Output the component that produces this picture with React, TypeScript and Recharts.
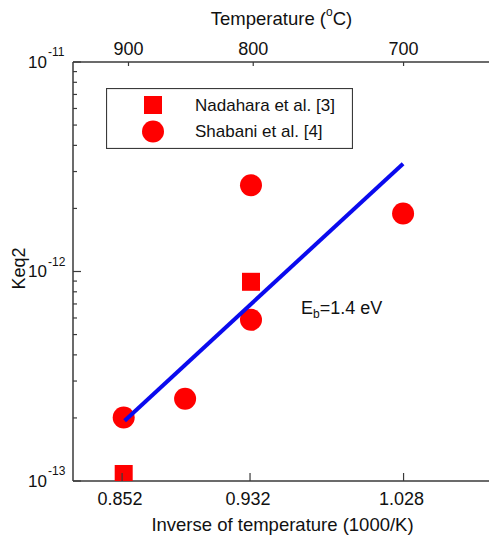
import { ComposedChart, Scatter, XAxis, YAxis, Legend, ReferenceDot } from "recharts"

// data (x in 1000/K, y = Keq2)
const nadaharaX = [0.853, 0.9326]
const nadaharaY = [1.08e-13, 8.93e-13]
const shabaniX = [0.853, 0.8914, 0.9326, 0.9326, 1.0277]
const shabaniY = [2.01e-13, 2.47e-13, 2.58e-12, 5.88e-13, 1.89e-12]
const fitX = [0.8536, 1.0277]
const fitY = [1.94e-13, 3.27e-12]

const bottomTicks = [0.852, 0.932, 1.028]
const topTickPos = [0.856, 0.934, 1.028]
const topTickLabels = ["900", "800", "700"]
const yDecades = [1e-13, 1e-12, 1e-11]
const yMinorSteps = [2, 3, 4, 5, 6, 7, 8, 9]

const xDomain = [0.8213, 1.0833]
const yDomain = [1e-13, 1e-11]
const ebAnchor = { x: 0.9639, y: 6.71e-13 }

const FONT = "Arial, 'Liberation Sans', Helvetica, sans-serif"
const AXIS = "#3a3a3a"
const RED = "#ff0000"
const BLUE = "#0a0aee"
const PLOT_LEFT = 73
const PLOT_TOP = 62
const PLOT_BOTTOM = 481

const toPoints = (xs: number[], ys: number[]) => xs.map((x, i) => ({ x, y: ys[i] }))
const nadahara = toPoints(nadaharaX, nadaharaY)
const shabani = toPoints(shabaniX, shabaniY)
const fit = toPoints(fitX, fitY)

const yTicks: number[] = []
yDecades.forEach((d, i) => {
  yTicks.push(d)
  if (i < yDecades.length - 1) yMinorSteps.forEach(m => yTicks.push(d * m))
})

function YTick(props: any) {
  const { y, payload } = props
  const e = Math.log10(payload.value)
  const major = Math.abs(e - Math.round(e)) < 1e-6
  return (
    <g>
      <line x1={PLOT_LEFT} x2={PLOT_LEFT + (major ? 8 : 4)} y1={y} y2={y} stroke={AXIS} strokeWidth={1.2} />
      {major && (
        <g fontFamily={FONT} fill="#111">
          <text x={47} y={y} textAnchor="end" dominantBaseline="central" fontSize={17}>10</text>
          <text x={48} y={y - 10} textAnchor="start" dominantBaseline="central" fontSize={12}>
            {String(Math.round(e))}
          </text>
        </g>
      )}
    </g>
  )
}

function BottomTick(props: any) {
  const { x, payload } = props
  return (
    <g>
      <line x1={x} x2={x} y1={PLOT_BOTTOM} y2={PLOT_BOTTOM - 8} stroke={AXIS} strokeWidth={1.2} />
      <text x={x - 2} y={499} textAnchor="middle" dominantBaseline="central" fontSize={18} fontFamily={FONT} fill="#111">
        {payload.value.toFixed(3)}
      </text>
    </g>
  )
}

function TopTick(props: any) {
  const { x, index } = props
  return (
    <g>
      <line x1={x} x2={x} y1={PLOT_TOP} y2={PLOT_TOP + 4} stroke={AXIS} strokeWidth={1.2} />
      <text x={x} y={49} textAnchor="middle" dominantBaseline="central" fontSize={18} fontFamily={FONT} fill="#111">
        {topTickLabels[index]}
      </text>
    </g>
  )
}

const squareShape = (p: any) => <rect x={p.cx - 9} y={p.cy - 9} width={18} height={18} fill={RED} />
const circleShape = (p: any) => <circle cx={p.cx} cy={p.cy} r={11} fill={RED} />

function LegendBox(props: any) {
  const items = (props.payload || []).filter((e: any) => e.type !== "none")
  return (
    <svg width={247} height={61} style={{ display: "block" }}>
      <rect x={0.5} y={0.5} width={246} height={60} fill="#fff" stroke={AXIS} strokeWidth={1.2} />
      {items.map((e: any, i: number) => {
        const cy = 17 + i * 26.5
        return (
          <g key={e.value}>
            {e.type === "square"
              ? <rect x={38} y={cy - 9} width={18} height={18} fill={RED} />
              : <circle cx={47} cy={cy} r={11} fill={RED} />}
            <text x={89} y={cy} dominantBaseline="central" fontSize={17} fontFamily={FONT} fill="#111">{e.value}</text>
          </g>
        )
      })}
    </svg>
  )
}

export default function App() {
  return (
    <div style={{ position: "absolute", left: 0, top: 0, width: 489, height: 536, overflow: "hidden", background: "#fff" }}>
      <ComposedChart width={520} height={536} margin={{ top: 0, right: 28, bottom: 0, left: 0 }}>
        <XAxis
          xAxisId="top"
          orientation="top"
          type="number"
          dataKey="x"
          domain={xDomain}
          allowDataOverflow
          ticks={topTickPos}
          interval={0}
          height={62}
          axisLine={{ stroke: AXIS, strokeWidth: 1.5 }}
          tickLine={false}
          tick={TopTick}
          label={(p: any) => {
            const vb = p.viewBox
            return (
              <text x={vb.x + vb.width / 2 - 1} y={18} textAnchor="middle" dominantBaseline="central" fontSize={18.5} fontFamily={FONT} fill="#111">
                Temperature (<tspan dy={-6} fontSize={12}>o</tspan><tspan dy={6} fontSize={18.5}>C)</tspan>
              </text>
            )
          }}
        />
        <XAxis
          xAxisId="bottom"
          type="number"
          dataKey="x"
          domain={xDomain}
          allowDataOverflow
          ticks={bottomTicks}
          interval={0}
          height={55}
          axisLine={{ stroke: AXIS, strokeWidth: 1.5 }}
          tickLine={false}
          tick={BottomTick}
          label={(p: any) => {
            const vb = p.viewBox
            return (
              <text x={vb.x + vb.width / 2} y={524} textAnchor="middle" dominantBaseline="central" fontSize={18.5} fontFamily={FONT} fill="#111">
                Inverse of temperature (1000/K)
              </text>
            )
          }}
        />
        <YAxis
          type="number"
          dataKey="y"
          scale="log"
          domain={yDomain}
          allowDataOverflow
          ticks={yTicks}
          interval={0}
          width={73}
          axisLine={{ stroke: AXIS, strokeWidth: 1.5 }}
          tickLine={false}
          tick={YTick}
          label={(p: any) => {
            const vb = p.viewBox
            const cy = vb.y + vb.height / 2 - 3
            return (
              <text transform={`translate(19, ${cy}) rotate(-90)`} textAnchor="middle" dominantBaseline="central" fontSize={18} fontFamily={FONT} fill="#111">
                Keq2
              </text>
            )
          }}
        />
        <Legend
          layout="horizontal"
          verticalAlign="middle"
          align="center"
          content={LegendBox}
          wrapperStyle={{ position: "absolute", left: 106, top: 88, width: 247, height: 61 }}
        />
        <Scatter
          name="Nadahara et al. [3]"
          xAxisId="bottom"
          data={nadahara}
          legendType="square"
          shape={squareShape}
          isAnimationActive={false}
        />
        <Scatter
          name="Shabani et al. [4]"
          xAxisId="bottom"
          data={shabani}
          legendType="circle"
          shape={circleShape}
          isAnimationActive={false}
        />
        <Scatter
          name="fit"
          xAxisId="bottom"
          data={fit}
          legendType="none"
          line={{ stroke: BLUE, strokeWidth: 4 }}
          shape={() => <g />}
          isAnimationActive={false}
        />
        <ReferenceDot
          xAxisId="bottom"
          x={ebAnchor.x}
          y={ebAnchor.y}
          r={0}
          stroke="none"
          ifOverflow="visible"
          label={(p: any) => {
            const vb = p.viewBox
            return (
              <text x={vb.x} y={vb.y} dominantBaseline="central" fontSize={18} fontFamily={FONT} fill="#111">
                E<tspan dy={6} fontSize={12}>b</tspan><tspan dy={-6} fontSize={18}>=1.4 eV</tspan>
              </text>
            )
          }}
        />
      </ComposedChart>
    </div>
  )
}
